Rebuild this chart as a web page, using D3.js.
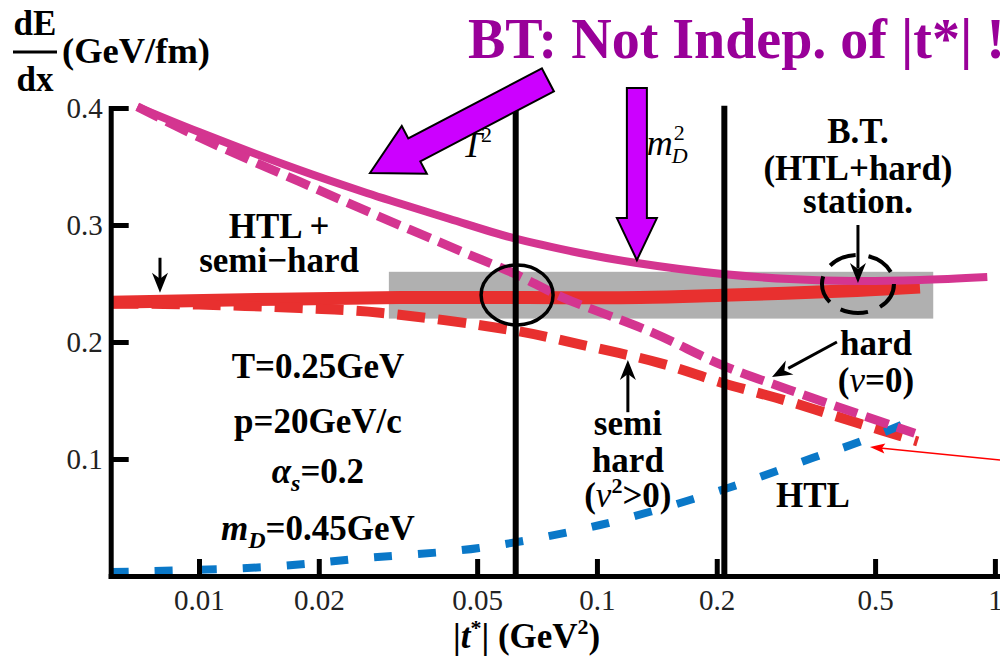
<!DOCTYPE html>
<html>
<head>
<meta charset="utf-8">
<script src="https://cdn.jsdelivr.net/npm/d3@7"></script>
<style>
  body { margin: 0; background: #fff; }
  svg { display: block; }
  text { font-family: 'Liberation Serif', 'Times New Roman', serif; }
</style>
</head>
<body>
<div id="graph"></div>
<script>
// curves, each point is [|t*| (GeV^2), dE/dx (GeV/fm)]
const btTotal = [[0.007, 0.401], [0.01, 0.3795], [0.0179, 0.347], [0.0264, 0.3274], [0.032, 0.3184],
  [0.0427, 0.3051], [0.0615, 0.2889], [0.0906, 0.2761], [0.126, 0.2675], [0.207, 0.2581],
  [0.305, 0.2538], [0.45, 0.2521], [0.648, 0.253], [0.957, 0.2556]];
const hardPart = [[0.007, 0.401], [0.01, 0.375], [0.0179, 0.337], [0.0285, 0.307], [0.046, 0.277],
  [0.0615, 0.259], [0.0822, 0.238], [0.138, 0.208], [0.207, 0.180], [0.305, 0.159],
  [0.45, 0.139], [0.629, 0.122]];
const semiHard = [[0.006, 0.233], [0.01, 0.232], [0.0179, 0.229], [0.0285, 0.225],
  [0.0615, 0.210], [0.0906, 0.198], [0.144, 0.182], [0.207, 0.165], [0.305, 0.149],
  [0.45, 0.131], [0.64, 0.115]];
const htlSemiHard = [[0.006, 0.234], [0.032, 0.238], [0.128, 0.238], [0.207, 0.240],
  [0.45, 0.244], [0.648, 0.247]];
const htlPart = [[0.006, 0.0034], [0.0148, 0.0077], [0.0264, 0.0154], [0.0506, 0.024],
  [0.1018, 0.0436], [0.2125, 0.075], [0.349, 0.101], [0.46, 0.115], [0.611, 0.132]];

const xTicks = [0.01, 0.02, 0.05, 0.1, 0.2, 0.5, 1];
const xTickLabels = ['0.01', '0.02', '0.05', '0.1', '0.2', '0.5', '1'];
const yTicks = [0.1, 0.2, 0.3, 0.4];
const yTickLabels = ['0.1', '0.2', '0.3', '0.4'];

const cutoffs = [0.0625, 0.209]; // T^2 and m_D^2
const bandT = [0.03, 0.7];
const bandV = [0.22, 0.26];

// annotations, in data units
const notes = [
  { t: 0.0159, v: 0.2889, html: 'HTL +' },
  { t: 0.0159, v: 0.2598, html: 'semi\u2212hard' },
  { t: 0.0199, v: 0.1692, html: 'T=0.25GeV' },
  { t: 0.0199, v: 0.1222, html: 'p=20GeV/c' },
  { t: 0.0199, v: 0.0795, html: '<tspan font-style="italic">\u03b1</tspan><tspan font-style="italic" font-size="24" dy="8">s</tspan><tspan dy="-8">=0.2</tspan>' },
  { t: 0.0199, v: 0.0308, html: '<tspan font-style="italic">m</tspan><tspan font-style="italic" font-size="24" dy="8">D</tspan><tspan dy="-8">=0.45GeV</tspan>' },
  { t: 0.4528, v: 0.3701, html: 'B.T.' },
  { t: 0.4528, v: 0.3385, html: '(HTL+hard)' },
  { t: 0.4528, v: 0.3103, html: 'station.' },
  { t: 0.5024, v: 0.1889, html: 'hard' },
  { t: 0.5024, v: 0.1573, html: '(<tspan font-style="italic" font-weight="normal">\u03bd</tspan>=0)' },
  { t: 0.1196, v: 0.1205, html: 'semi' },
  { t: 0.1196, v: 0.0889, html: 'hard' },
  { t: 0.1196, v: 0.0590, html: '(<tspan font-style="italic" font-weight="normal">\u03bd</tspan><tspan font-size="22" dy="-14">2</tspan><tspan dy="14">&gt;0)</tspan>' },
  { t: 0.349, v: 0.0590, html: 'HTL' }
];
const blackArrows = [
  { from: [0.00798, 0.272], to: [0.00798, 0.242] },
  { from: [0.4528, 0.300], to: [0.4528, 0.2504] },
  { from: [0.1196, 0.140], to: [0.1196, 0.1846] },
  { from: [0.4009, 0.200], to: [0.2754, 0.170] }
];
const bigArrows = [
  { from: [0.0753, 0.424], to: [0.0269, 0.3444], hw: 13, hh: 27, hl: 50 },
  { from: [0.126, 0.417], to: [0.126, 0.270], hw: 10, hh: 20, hl: 42 }
];
const redArrow = { from: [1.03, 0.0991], to: [0.4853, 0.1103] };
const rings = [
  { t: 0.063, v: 0.2402, dashed: false },
  { t: 0.4528, v: 0.2496, dashed: true }
];

let width = 1000, height = 656;
let xScale = d3.scaleLog().domain([0.006, 1.03]).range([110.7, 1000]);
let yScale = d3.scaleLinear().domain([0, 0.4]).range([576, 108]);

let svg = d3.select('#graph').append('svg')
  .attr('width', width)
  .attr('height', height);

let line = d3.line()
  .x((d) => xScale(d[0]))
  .y((d) => yScale(d[1]))
  .curve(d3.curveCatmullRom.alpha(0.5));

// gray band
svg.append('rect')
  .attr('x', xScale(bandT[0]))
  .attr('y', yScale(bandV[1]))
  .attr('width', xScale(bandT[1]) - xScale(bandT[0]))
  .attr('height', yScale(bandV[0]) - yScale(bandV[1]))
  .attr('fill', '#b0b0b0');

// curves
const curves = [
  { data: htlSemiHard, color: '#e8302f', w: 13, dash: null },
  { data: semiHard, color: '#e8302f', w: 10, dash: '28,13' },
  { data: htlPart, color: '#0a78c8', w: 8, dash: '18,26' },
  { data: btTotal, color: '#d43590', w: 8, dash: null },
  { data: hardPart, color: '#d43590', w: 9, dash: '24,9' }
];
curves.forEach((c) => {
  svg.append('path')
    .datum(c.data)
    .attr('fill', 'none')
    .attr('stroke', c.color)
    .attr('stroke-width', c.w)
    .attr('stroke-dasharray', c.dash)
    .attr('d', line);
});

// labels
svg.selectAll('text.note')
  .data(notes)
  .join('text')
  .attr('class', 'note')
  .attr('x', (d) => xScale(d.t))
  .attr('y', (d) => yScale(d.v))
  .attr('text-anchor', 'middle')
  .attr('font-weight', 'bold')
  .attr('font-size', 35)
  .html((d) => d.html);

// T^2 and m_D^2 labels
let tx = xScale(0.0458), ty = yScale(0.3581);
svg.append('text').attr('x', tx).attr('y', ty).attr('font-style', 'italic').attr('font-size', 36).text('T');
svg.append('text').attr('x', tx + 19).attr('y', ty - 15).attr('font-size', 22).text('2');
let mx = xScale(0.1335), my = yScale(0.3598);
svg.append('text').attr('x', mx).attr('y', my).attr('font-style', 'italic').attr('font-size', 36).text('m');
svg.append('text').attr('x', mx + 27).attr('y', my - 15).attr('font-size', 22).text('2');
svg.append('text').attr('x', mx + 25).attr('y', my + 8).attr('font-style', 'italic').attr('font-size', 22).text('D');

// vertical cutoff lines
svg.selectAll('line.cut')
  .data(cutoffs)
  .join('line')
  .attr('x1', (d) => xScale(d))
  .attr('x2', (d) => xScale(d))
  .attr('y1', yScale(0))
  .attr('y2', yScale(0.402))
  .attr('stroke', 'black')
  .attr('stroke-width', 6);

// rings
svg.selectAll('ellipse')
  .data(rings)
  .join('ellipse')
  .attr('cx', (d) => xScale(d.t))
  .attr('cy', (d) => yScale(d.v))
  .attr('rx', 36)
  .attr('ry', (d) => (d.dashed ? 29 : 30))
  .attr('fill', 'none')
  .attr('stroke', 'black')
  .attr('stroke-width', (d) => (d.dashed ? 4 : 3.5))
  .attr('stroke-dasharray', (d) => (d.dashed ? '28,13' : null));

// axes
let xAxis = d3.axisBottom(xScale)
  .tickValues(xTicks)
  .tickFormat((d, i) => xTickLabels[i])
  .tickSizeInner(-17)
  .tickSizeOuter(0)
  .tickPadding(13);
let yAxis = d3.axisLeft(yScale)
  .tickValues(yTicks)
  .tickFormat((d, i) => yTickLabels[i])
  .tickSizeInner(-18)
  .tickSizeOuter(0)
  .tickPadding(8);

let gx = svg.append('g')
  .attr('transform', 'translate(0,' + yScale(0) + ')')
  .call(xAxis)
  .attr('font-family', 'Liberation Serif, Times New Roman, serif')
  .attr('font-size', 29);
let gy = svg.append('g')
  .attr('transform', 'translate(' + xScale(0.006) + ',0)')
  .call(yAxis)
  .attr('font-family', 'Liberation Serif, Times New Roman, serif')
  .attr('font-size', 29);
[gx, gy].forEach((g) => {
  g.select('.domain').attr('stroke-width', 5).attr('stroke-linecap', 'square');
  g.selectAll('.tick line').attr('stroke-width', 5);
  g.selectAll('.tick text').attr('fill', '#222');
});

// small black arrows
function head(p0, p1, len, half, notch) {
  let dx = p1[0] - p0[0], dy = p1[1] - p0[1], L = Math.hypot(dx, dy);
  let ux = dx / L, uy = dy / L, nx = -uy, ny = ux;
  let bx = p1[0] - ux * len, by = p1[1] - uy * len;
  return [p1, [bx + nx * half, by + ny * half], [bx + ux * notch, by + uy * notch], [bx - nx * half, by - ny * half]];
}
blackArrows.forEach((a) => {
  let p0 = [xScale(a.from[0]), yScale(a.from[1])];
  let p1 = [xScale(a.to[0]), yScale(a.to[1])];
  svg.append('line')
    .attr('x1', p0[0]).attr('y1', p0[1])
    .attr('x2', p1[0] - (p1[0] - p0[0]) * 0.25).attr('y2', p1[1] - (p1[1] - p0[1]) * 0.25)
    .attr('stroke', 'black')
    .attr('stroke-width', 3);
  svg.append('polygon')
    .attr('points', head(p0, p1, 20, 8, 6).join(' '))
    .attr('fill', 'black');
});

// thin red arrow
let r0 = [xScale(redArrow.from[0]), yScale(redArrow.from[1])];
let r1 = [xScale(redArrow.to[0]), yScale(redArrow.to[1])];
svg.append('line')
  .attr('x1', r0[0]).attr('y1', r0[1])
  .attr('x2', r1[0] + 10).attr('y2', r1[1] + 1)
  .attr('stroke', '#ff0000')
  .attr('stroke-width', 1.5);
svg.append('polygon')
  .attr('points', head(r0, r1, 15, 5, 3).join(' '))
  .attr('fill', '#ff0000');

// big purple arrows
function bigArrow(p0, p1, hw, hh, hl) {
  let dx = p1[0] - p0[0], dy = p1[1] - p0[1], L = Math.hypot(dx, dy);
  let ux = dx / L, uy = dy / L, nx = -uy, ny = ux;
  let bx = p1[0] - ux * hl, by = p1[1] - uy * hl;
  return [
    [p0[0] + nx * hw, p0[1] + ny * hw],
    [bx + nx * hw, by + ny * hw],
    [bx + nx * hh, by + ny * hh],
    p1,
    [bx - nx * hh, by - ny * hh],
    [bx - nx * hw, by - ny * hw],
    [p0[0] - nx * hw, p0[1] - ny * hw]
  ];
}
bigArrows.forEach((a) => {
  let p0 = [xScale(a.from[0]), yScale(a.from[1])];
  let p1 = [xScale(a.to[0]), yScale(a.to[1])];
  svg.append('polygon')
    .attr('points', bigArrow(p0, p1, a.hw, a.hh, a.hl).join(' '))
    .attr('fill', '#cc00ff')
    .attr('stroke', 'black')
    .attr('stroke-width', 2)
    .attr('stroke-linejoin', 'miter');
});

// title
svg.append('text')
  .attr('x', 468)
  .attr('y', 58)
  .attr('font-size', 56)
  .attr('font-weight', 'bold')
  .attr('fill', '#990099')
  .text('BT: Not Indep. of |t*| !');

// y label
let yl = svg.append('g').attr('font-weight', 'bold');
yl.append('text').attr('x', 35).attr('y', 35).attr('text-anchor', 'middle').attr('font-size', 35).text('dE');
yl.append('line').attr('x1', 13).attr('x2', 57).attr('y1', 52).attr('y2', 52).attr('stroke', 'black').attr('stroke-width', 3);
yl.append('text').attr('x', 35).attr('y', 91).attr('text-anchor', 'middle').attr('font-size', 35).text('dx');
yl.append('text').attr('x', 62).attr('y', 63).attr('font-size', 36.5).text('(GeV/fm)');

// x label
svg.append('text')
  .attr('x', 453)
  .attr('y', 648)
  .attr('font-size', 35)
  .attr('font-weight', 'bold')
  .html('|<tspan font-style="italic">t</tspan><tspan font-size="22" dy="-13">*</tspan><tspan dy="13">| (GeV</tspan><tspan font-size="22" dy="-14">2</tspan><tspan dy="14">)</tspan>');
</script>
</body>
</html>
